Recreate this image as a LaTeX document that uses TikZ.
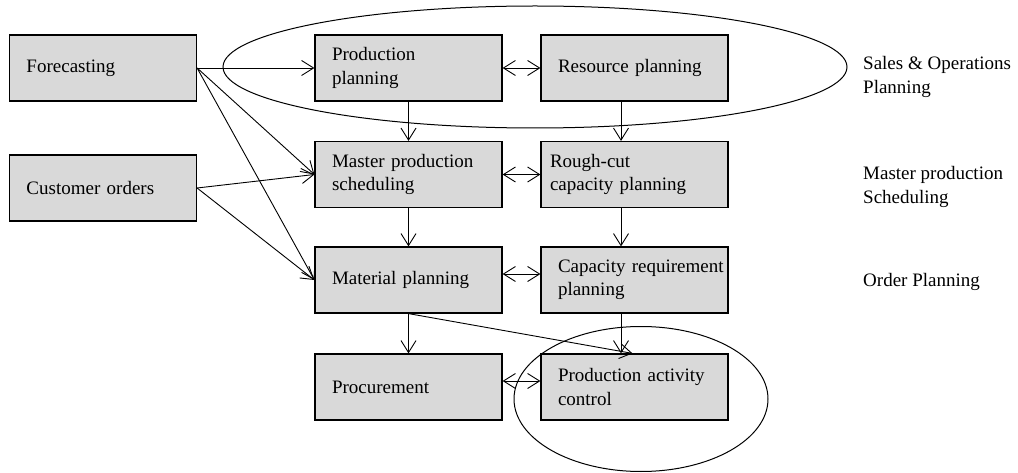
\documentclass[tikz,border=0pt]{standalone}
\usepackage{fontspec}
\setmainfont{Liberation Serif}
\usetikzlibrary{arrows.meta}
\definecolor{boxgray}{RGB}{217,217,217}
\begin{document}
\begin{tikzpicture}[x=1pt,y=-1pt,
  box/.style={draw, line width=1.2pt, fill=boxgray, minimum width=187pt, minimum height=66pt,
    inner xsep=17pt, text width=153pt, align=left, font=\fontsize{19}{23.5}\selectfont},
  tipb/.tip={Straight Barb[length=12pt,width=15pt]},
  conn/.style={line width=0.9pt, -tipb},
  both/.style={line width=0.9pt, tipb-tipb},
  lbl/.style={anchor=west, align=left, inner sep=0pt, font=\fontsize{19}{23.5}\selectfont},
  ring/.style={draw, line width=1pt}]
\useasboundingbox (0,0) rectangle (1018,473);

\node[box] (fc)  at (103,68)    {Forecasting};
\node[box] (co)  at (103,188)   {Customer orders};
\node[box] (pp)  at (408.5,68)  {Production\\planning};
\node[box] (rp)  at (634.5,68)  {Resource planning};
\node[box] (mps) at (408.5,174.5) {Master production\\scheduling};
\node[box, inner xsep=9pt, text width=169pt] (rc) at (634.5,174.5) {Rough-cut\\capacity planning};
\node[box] (mp)  at (408.5,280) {Material planning};
\node[box] (cr)  at (634.5,280) {\mbox{Capacity requirement}\\planning};
\node[box] (pr)  at (408.5,387) {Procurement};
\node[box] (pac) at (634.5,387) {Production activity\\control};

\node[lbl] (l1) at (863,77)  {Sales \& Operations\\Planning};
\node[lbl] (l2) at (863,187) {Master production\\Scheduling};
\node[lbl] (l3) at (863,282) {Order Planning};

\draw[conn] (fc.east) -- (pp.west);
\draw[conn] (fc.east) -- (mps.west);
\draw[conn] (fc.east) -- (mp.west);
\draw[conn] (co.east) -- (mps.west);
\draw[conn] (co.east) -- (mp.west);

\draw[conn] (pp.south) -- (mps.north);
\draw[conn] (mps.south) -- (mp.north);
\draw[conn] (mp.south) -- (pr.north);
\draw[conn] ([xshift=-13.5pt]rp.south) -- ([xshift=-13.5pt]rc.north);
\draw[conn] ([xshift=-13.5pt]rc.south) -- ([xshift=-13.5pt]cr.north);
\draw[conn] ([xshift=-13.5pt]cr.south) -- ([xshift=-13.5pt]pac.north);
\draw[conn] (mp.south) -- ([xshift=-2pt]pac.north);

\draw[both] (pp.east) -- (rp.west);
\draw[both] (mps.east) -- (rc.west);
\draw[both] ([yshift=6pt]mp.east) -- ([yshift=6pt]cr.west);
\draw[both] ([yshift=6pt]pr.east) -- ([yshift=6pt]pac.west);

\draw[ring] (535,67) ellipse [x radius=312, y radius=61];
\draw[ring] (641,399) ellipse [x radius=127, y radius=72.5];
\end{tikzpicture}
\end{document}
